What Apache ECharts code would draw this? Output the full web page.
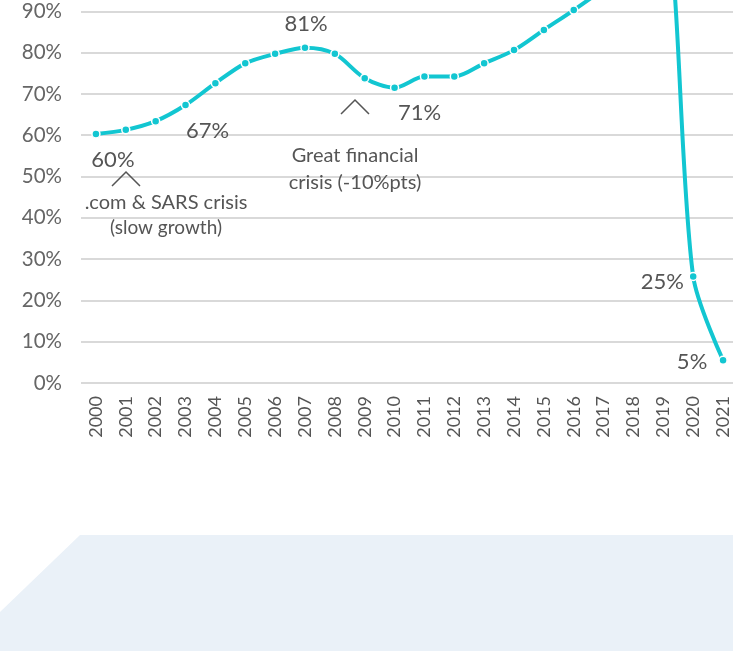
<!DOCTYPE html>
<html><head><meta charset="utf-8">
<script src="https://cdn.jsdelivr.net/npm/echarts@6/dist/echarts.min.js"></script>
<style>html,body{margin:0;padding:0;background:#fff}#c{width:733px;height:651px}</style>
</head><body><div id="c"></div>
<script>
const years = ['2000','2001','2002','2003','2004','2005','2006','2007','2008','2009','2010','2011','2012','2013','2014','2015','2016','2017','2018','2019','2020','2021'];
const values = [60.3,61.3,63.4,67.3,72.6,77.4,79.7,81.2,79.7,73.8,71.5,74.2,74.2,77.4,80.6,85.5,90.3,95.5,102,110,25.8,5.5];
const yTicks = [0,10,20,30,40,50,60,70,80,90,100,110,120];
const labelIdx = [0,3,7,10,20,21];
const labelText = ['60%','67%','81%','71%','25%','5%'];
const labelOffsets = [[17,26],[22,26],[1,-24],[25,25],[-31,5],[-31,2]];

const FONT = '"Source Sans Pro", Lato, "Noto Sans", sans-serif';
const chart = echarts.init(document.getElementById('c'));
const seriesData = values.map((v,i)=>{
  const k = labelIdx.indexOf(i);
  if(k<0) return v;
  return {value:v,label:{show:true,formatter:labelText[k],position:'inside',offset:labelOffsets[k],
    color:'#555',fontSize:22,fontFamily:FONT}};
});
function chevron(x,y){return {type:'polyline',shape:{points:[[x-14,y+14],[x,y],[x+14,y+14]]},style:{stroke:'#555',lineWidth:1.5,fill:null},z:10};}
function txt(x,y,t,size){return {type:'text',x:x,y:y,style:{text:t,fill:'#555',font:size+'px '+FONT,textAlign:'center',textVerticalAlign:'middle'},z:10};}
chart.setOption({
  animation:false,
  grid:{left:81,right:-5,top:383-4.13*120,bottom:651-383,outerBoundsMode:'none',containLabel:false},
  xAxis:{type:'category',data:years,boundaryGap:true,
    axisLine:{show:false},axisTick:{show:false},
    axisLabel:{rotate:90,color:'#555',fontSize:18,fontFamily:FONT,margin:13}},
  yAxis:{type:'value',min:yTicks[0],max:yTicks[yTicks.length-1],interval:10,
    axisLine:{show:false},axisTick:{show:false},
    axisLabel:{formatter:'{value}%',color:'#666',fontSize:20.5,fontFamily:FONT,margin:19},
    splitLine:{lineStyle:{color:'#cccccc',width:1.5}}},
  series:[{type:'line',data:seriesData,smooth:0.3,
    lineStyle:{color:'#12c6d1',width:4},
    itemStyle:{color:'#12c6d1',borderColor:'#fff',borderWidth:1.5},
    symbol:'circle',symbolSize:8,showAllSymbol:true,z:3}],
  graphic:[
    {type:'polygon',shape:{points:[[0,612],[80,535],[733,535],[733,651],[0,651]]},style:{fill:'#eaf1f8'},z:-1},
    chevron(126,172),
    txt(166,203,'.com & SARS crisis',20),
    txt(166,228,'(slow growth)',19),
    chevron(355,100),
    txt(355,156,'Great financial',20),
    txt(355,183,'crisis (-10%pts)',20)
  ]
});
</script></body></html>
